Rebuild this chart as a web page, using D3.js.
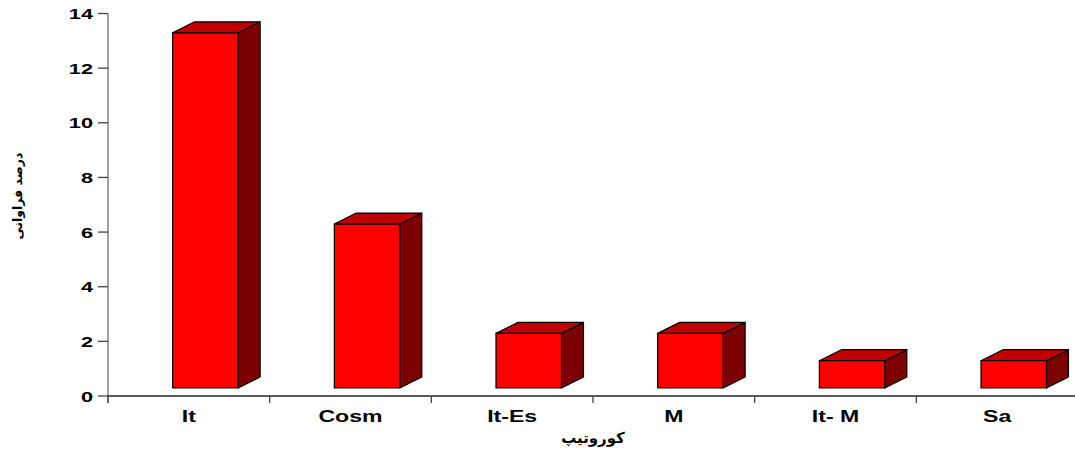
<!DOCTYPE html>
<html>
<head>
<meta charset="utf-8">
<script src="https://cdn.jsdelivr.net/npm/d3@7"></script>
<style>
  html, body { margin: 0; padding: 0; background: #fff; }
  svg { display: block; }
</style>
</head>
<body>
<svg id="chart" width="1075" height="452"></svg>
<script>
// Karyotype frequencies
const categories = ["It", "Cosm", "It-Es", "M", "It- M", "Sa"];
const values = [13, 6, 2, 2, 1, 1];
const yTicks = [0, 2, 4, 6, 8, 10, 12, 14];
const xTitle = "کوروتیپ";
const yTitle = "درصد فراوانی";

const svg = d3.select("#chart");
const W = 1075, H = 452;

const x = d3.scaleBand().domain(categories).range([108, 1078]).paddingInner(0).paddingOuter(0);
const y = d3.scaleLinear().domain([0, 14]).range([396, 13.5]);

// 3D box settings
const depthX = 22, depthY = 11, lift = 8;
const frontStart = 0.4, frontWidth = 0.405;

// y axis
const yAxis = svg.append("g").attr("transform", "translate(108,0)");
yAxis.append("line").attr("x1", 0).attr("x2", 0).attr("y1", y(14)).attr("y2", y(0) + 7)
  .attr("stroke", "#6e6e6e").attr("stroke-width", 1.3);
yAxis.selectAll("line.tick").data(yTicks).join("line").attr("class", "tick")
  .attr("x1", -10).attr("x2", 0).attr("y1", d => y(d)).attr("y2", d => y(d))
  .attr("stroke", "#444").attr("stroke-width", 1.3);
yAxis.selectAll("text").data(yTicks).join("text")
  .attr("transform", d => `translate(-15,${y(d) + 5.5}) scale(1.45,1)`)
  .attr("text-anchor", "end")
  .attr("font-family", "Liberation Sans, Arial, sans-serif")
  .attr("font-weight", "bold").attr("font-size", 15).attr("fill", "#000")
  .text(d => d);

// x axis
const xAxis = svg.append("g").attr("transform", `translate(0,${y(0)})`);
xAxis.append("line").attr("x1", 108).attr("x2", W).attr("y1", 0).attr("y2", 0)
  .attr("stroke", "#222").attr("stroke-width", 1.3);
const bounds = categories.map(c => x(c)).concat([x.range()[1]]);
xAxis.selectAll("line.tick").data(bounds).join("line").attr("class", "tick")
  .attr("x1", d => d).attr("x2", d => d).attr("y1", 0).attr("y2", 7)
  .attr("stroke", "#444").attr("stroke-width", 1.3);
xAxis.selectAll("text").data(categories).join("text")
  .attr("transform", d => `translate(${x(d) + x.bandwidth() / 2},26) scale(1.4,1)`)
  .attr("text-anchor", "middle")
  .attr("font-family", "Liberation Sans, Arial, sans-serif")
  .attr("font-weight", "bold").attr("font-size", 16.5).attr("fill", "#000")
  .text(d => d);

// bars as boxes
const bars = svg.append("g");
categories.forEach((c, i) => {
  const v = values[i];
  const bw = x.bandwidth();
  const x0 = x(c) + bw * frontStart;
  const x1 = x0 + bw * frontWidth;
  const yb = y(0) - lift;
  const yt = y(v) - lift;
  const g = bars.append("g").attr("stroke", "#000").attr("stroke-width", 1.2).attr("stroke-linejoin", "round");
  // side
  g.append("path").attr("fill", "#7d0000")
    .attr("d", `M${x1},${yb}L${x1 + depthX},${yb - depthY}L${x1 + depthX},${yt - depthY}L${x1},${yt}Z`);
  // top
  g.append("path").attr("fill", "#c00000")
    .attr("d", `M${x0},${yt}L${x0 + depthX},${yt - depthY}L${x1 + depthX},${yt - depthY}L${x1},${yt}Z`);
  // front
  g.append("rect").attr("fill", "#ff0000")
    .attr("x", x0).attr("y", yt).attr("width", x1 - x0).attr("height", yb - yt);
});

// axis titles
svg.append("text")
  .attr("x", 593).attr("y", 443)
  .attr("text-anchor", "middle")
  .attr("font-family", "DejaVu Sans, sans-serif")
  .attr("font-weight", "bold").attr("font-size", 15).attr("fill", "#000")
  .attr("direction", "rtl")
  .text(xTitle);

svg.append("text")
  .attr("transform", "translate(22,196) rotate(-90)")
  .attr("text-anchor", "middle")
  .attr("font-family", "DejaVu Sans, sans-serif")
  .attr("font-weight", "bold").attr("font-size", 12.5).attr("fill", "#000")
  .text(yTitle);
</script>
</body>
</html>
